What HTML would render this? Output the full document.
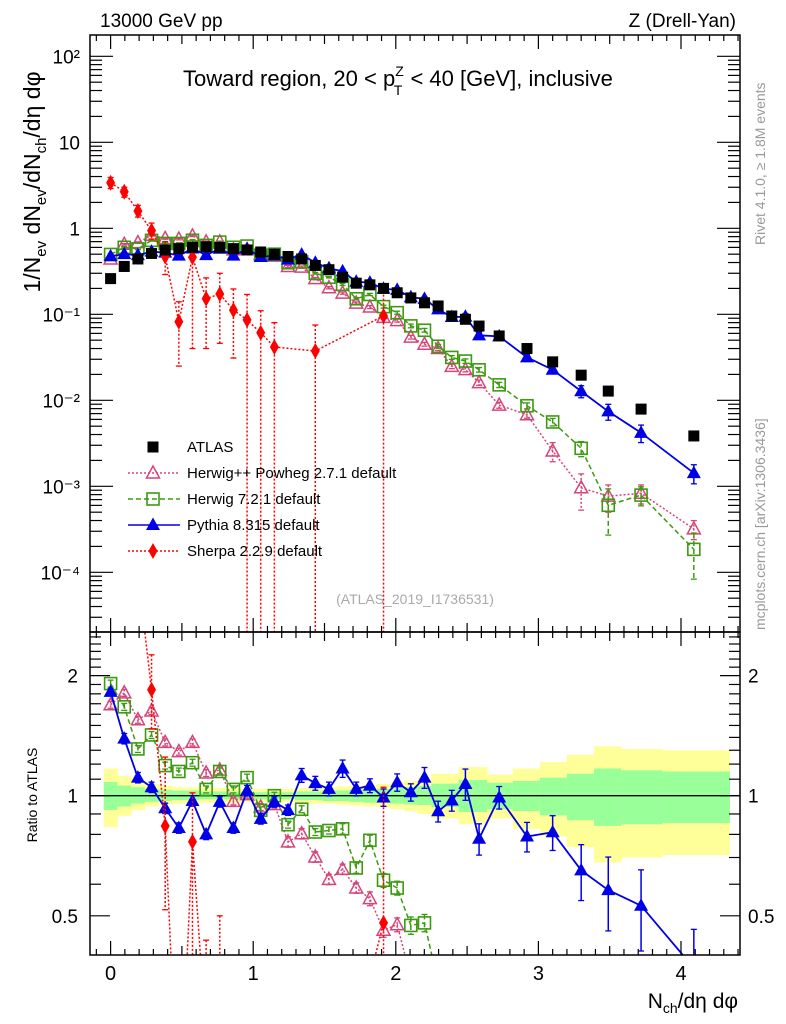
<!DOCTYPE html>
<html><head><meta charset="utf-8"><style>
html,body{margin:0;padding:0;background:#fff;overflow:hidden;}
svg{display:block;font-family:"Liberation Sans",sans-serif;overflow:hidden;}
</style></head><body>
<svg id="chart" width="786" height="1024" viewBox="0 0 786 1024">
<defs>
<clipPath id="cm"><rect x="90" y="35" width="650" height="597"/></clipPath>
<clipPath id="cr"><rect x="90" y="632" width="650" height="323"/></clipPath>
</defs>
<g id="bands" clip-path="url(#cr)"></g>
<g id="mainSeries" clip-path="url(#cm)"></g>
<g id="ratioSeries" clip-path="url(#cr)"></g>
<g id="axes"></g>
<rect x="90" y="35" width="650" height="597" fill="none" stroke="#000" stroke-width="1.5"/>
<rect x="90" y="632" width="650" height="323" fill="none" stroke="#000" stroke-width="1.5"/>
<text x="100" y="27" font-size="19">13000 GeV pp</text>
<text x="736" y="27" font-size="19" text-anchor="end">Z (Drell-Yan)</text>
<text x="183" y="86" font-size="22">Toward region, 20 &lt; p<tspan font-size="14" dy="-10">Z</tspan><tspan font-size="14" dy="19" dx="-10">T</tspan><tspan dy="-9" dx="2"> &lt; 40 [GeV], inclusive</tspan></text>
<text transform="translate(40,182) rotate(-90)" font-size="23" text-anchor="middle">1/N<tspan font-size="15" dy="6">ev</tspan><tspan dy="-6"> dN</tspan><tspan font-size="15" dy="6">ev</tspan><tspan dy="-6">/dN</tspan><tspan font-size="15" dy="6">ch</tspan><tspan dy="-6">/dη dφ</tspan></text>
<text transform="translate(37,795) rotate(-90)" font-size="14" text-anchor="middle">Ratio to ATLAS</text>
<text x="738" y="1008" font-size="21" text-anchor="end">N<tspan font-size="14" dy="5">ch</tspan><tspan dy="-5">/dη dφ</tspan></text>
<text transform="translate(765,245) rotate(-90)" font-size="14" fill="#999">Rivet 4.1.0, ≥ 1.8M events</text>
<text transform="translate(765,630) rotate(-90)" font-size="14" fill="#999">mcplots.cern.ch [arXiv:1306.3436]</text>
<text x="415" y="604" font-size="14" fill="#aaa" text-anchor="middle">(ATLAS_2019_I1736531)</text>
<g id="legend"></g>
</svg>
<script>
// ---- data ----
const xVals=[0,0.0957,0.1914,0.2871,0.3828,0.4785,0.5742,0.6699,0.7656,0.8613,0.957,1.0527,1.1484,1.2441,1.3398,1.4355,1.5312,1.6269,1.7226,1.8183,1.914,2.0097,2.1054,2.2011,2.2968,2.3925,2.4882,2.5839,2.725,2.92,3.10,3.30,3.49,3.72,4.09];
const atlasVals=[0.26,0.36,0.44,0.51,0.56,0.58,0.60,0.61,0.60,0.58,0.56,0.53,0.50,0.47,0.44,0.37,0.33,0.27,0.23,0.22,0.20,0.178,0.155,0.136,0.125,0.0955,0.0875,0.073,0.056,0.040,0.028,0.0196,0.0128,0.0079,0.00385];
const herwigppRatio=[1.69,1.81,1.55,1.63,1.36,1.29,1.36,1.14,1.16,0.968,1.006,0.937,0.95,0.766,0.803,0.702,0.617,0.654,0.587,0.552,0.46,0.475,0.35,0.33,0.32,0.26,0.26,0.22,0.157,0.17,0.092,0.049,0.060,0.105,0.083];
const herwigppErr=[0.02,0.02,0.02,0.02,0.02,0.02,0.02,0.02,0.02,0.02,0.02,0.02,0.02,0.03,0.03,0.03,0.03,0.03,0.03,0.04,0.04,0.04,0.05,0.05,0.05,0.06,0.06,0.07,0.08,0.09,0.25,0.45,0.35,0.25,0.25];
const herwig7Ratio=[1.91,1.67,1.31,1.42,1.19,1.15,1.21,1.037,1.15,1.037,1.11,0.919,1.0,0.846,0.925,0.811,0.818,0.826,0.659,0.773,0.614,0.587,0.473,0.48,0.34,0.33,0.327,0.31,0.27,0.216,0.20,0.141,0.047,0.10,0.048];
const herwig7Err=[0.02,0.02,0.02,0.02,0.02,0.02,0.02,0.02,0.02,0.02,0.02,0.02,0.02,0.02,0.02,0.02,0.02,0.03,0.03,0.03,0.04,0.04,0.05,0.05,0.05,0.05,0.06,0.06,0.07,0.08,0.1,0.2,0.55,0.25,0.55];
const pythiaRatio=[1.82,1.39,1.11,1.05,0.93,0.83,0.97,0.80,0.965,0.83,1.03,0.875,0.965,0.92,1.125,1.075,1.04,1.17,1.04,1.06,0.99,1.08,1.02,1.11,0.914,0.973,1.07,0.78,0.99,0.79,0.81,0.65,0.58,0.53,0.37];
const pythiaErr=[0.02,0.03,0.03,0.03,0.03,0.03,0.03,0.03,0.03,0.03,0.03,0.03,0.03,0.03,0.04,0.04,0.04,0.05,0.04,0.04,0.05,0.05,0.05,0.06,0.06,0.06,0.09,0.09,0.065,0.085,0.10,0.16,0.21,0.23,0.25];
const sherpaVals=[3.39,2.66,1.59,0.94,0.47,0.082,0.46,0.152,0.172,0.112,0.086,0.061,0.0417,null,null,0.0374,null,null,null,null,0.096,null,null,null,null,null,null,null,null,null,null,null,null,null,null];
const sherpaHi=[3.9,3.0,1.85,1.15,0.70,0.14,0.61,0.265,0.30,0.197,0.17,0.11,0.08,null,null,0.075,null,null,null,null,0.21,null,null,null,null,null,null,null,null,null,null,null,null,null,null];
const sherpaLo=[2.9,2.3,1.35,0.75,0.29,0.025,0.04,0.04,0.046,0.031,1e-9,1e-9,1e-9,null,null,1e-9,null,null,null,null,1e-9,null,null,null,null,null,null,null,null,null,null,null,null,null,null];
const bandEdges=[-0.048,0.0479,0.1436,0.2393,0.335,0.4307,0.5264,0.6221,0.7178,0.8135,0.9092,1.0049,1.1006,1.1963,1.292,1.3877,1.4834,1.5791,1.6748,1.7705,1.8662,1.9619,2.0576,2.1533,2.249,2.3447,2.4404,2.5361,2.64,2.82,3.01,3.20,3.39,3.58,3.87,4.34];
const yellowHi=[1.17,1.12,1.09,1.07,1.06,1.05,1.05,1.05,1.045,1.045,1.04,1.04,1.04,1.04,1.045,1.05,1.05,1.055,1.06,1.065,1.07,1.08,1.09,1.11,1.135,1.135,1.18,1.18,1.13,1.17,1.215,1.267,1.33,1.31,1.30];
const yellowLo=[0.835,0.89,0.92,0.94,0.95,0.955,0.955,0.96,0.96,0.96,0.965,0.965,0.965,0.965,0.96,0.955,0.955,0.95,0.945,0.94,0.935,0.925,0.915,0.90,0.876,0.876,0.85,0.85,0.876,0.826,0.79,0.743,0.68,0.70,0.71];
const greenHi=[1.082,1.06,1.05,1.04,1.035,1.03,1.03,1.025,1.025,1.025,1.02,1.02,1.02,1.02,1.025,1.025,1.03,1.03,1.035,1.035,1.04,1.045,1.05,1.057,1.072,1.072,1.095,1.095,1.078,1.089,1.11,1.135,1.17,1.158,1.15];
const greenLo=[0.921,0.94,0.955,0.965,0.97,0.975,0.975,0.98,0.98,0.98,0.98,0.98,0.98,0.98,0.975,0.975,0.97,0.97,0.965,0.96,0.96,0.955,0.95,0.948,0.937,0.937,0.91,0.91,0.926,0.915,0.893,0.868,0.84,0.848,0.854];
const mainYTicks=["10²","10","1","10⁻¹","10⁻²","10⁻³","10⁻⁴"];
const mainYTickVals=[100,10,1,0.1,0.01,0.001,0.0001];
const xTickLabels=["0","1","2","3","4"];
const ratioTickLabels=["2","1","0.5"];
const ratioTickVals=[2,1,0.5];
const legendLabels=["ATLAS","Herwig++ Powheg 2.7.1 default","Herwig 7.2.1 default","Pythia 8.315 default","Sherpa 2.2.9 default"];

// ---- axes ----
const X0=110.6, XS=142.6;
function xpx(v){return X0+XS*v;}
function ypx(v){return Math.max(-300,Math.min(1300,228.3-86*Math.log10(v)));}
function rpx(r){return Math.max(-300,Math.min(1500,795.7-399*Math.log10(r)));}
const NS='http://www.w3.org/2000/svg';
function mk(parent,tag,attrs){const e=document.createElementNS(NS,tag);for(const k in attrs)e.setAttribute(k,attrs[k]);parent.appendChild(e);return e;}
const axes=document.getElementById('axes');
const mainG=document.getElementById('mainSeries');
const ratioG=document.getElementById('ratioSeries');
const bandsG=document.getElementById('bands');

for(let d=-5;d<=2;d++){
  for(let m=1;m<=9;m++){
    const v=m*Math.pow(10,d); const y=ypx(v);
    if(y<35||y>632) continue;
    const len=m===1?23:12;
    const t1=mk(axes,'line',{x1:90,x2:90+len,y1:y,y2:y,stroke:'#000','stroke-width':1.2});
    
    
    const t2=mk(axes,'line',{x1:740,x2:740-len,y1:y,y2:y,stroke:'#000','stroke-width':1.2});
    
    
  }
}
mainYTicks.forEach((lab,i)=>{
  const t=mk(axes,'text',{x:80,y:ypx(mainYTickVals[i])+7,'font-size':19,'text-anchor':'end'});
  t.textContent=lab;
  
  
});
for(let k=-1;k<=44;k++){
  const v=k/10; const x=xpx(v);
  if(x<91||x>739) continue;
  const len=(k%10===0)?14:((k%5===0)?9:6);
  [[35,1],[632,-1],[632,1],[955,-1]].forEach(([y0,s])=>{
    const t=mk(axes,'line',{x1:x,x2:x,y1:y0,y2:y0+s*len,stroke:'#000','stroke-width':1.2});
    
    
  });
}
xTickLabels.forEach((lab,i)=>{
  const t=mk(axes,'text',{x:xpx(i),y:980,'font-size':20,'text-anchor':'middle'});
  t.textContent=lab;
  
  
});
for(let r=0.4;r<=2.56;r+=0.1){
  const rr=Math.round(r*10)/10; const y=rpx(rr);
  if(y<633||y>954) continue;
  const maj=(rr===0.5||rr===1||rr===2);
  const len=maj?20:11;
  const a=mk(axes,'line',{x1:90,x2:90+len,y1:y,y2:y,stroke:'#000','stroke-width':1.2});
  
  
  const b=mk(axes,'line',{x1:740,x2:740-len,y1:y,y2:y,stroke:'#000','stroke-width':1.2});
  
  
}
ratioTickLabels.forEach((lab,i)=>{
  const y=rpx(ratioTickVals[i])+7;
  const a=mk(axes,'text',{x:78,y:y,'font-size':19,'text-anchor':'end'});
  a.textContent=lab;
  
  
  const b=mk(axes,'text',{x:748,y:y,'font-size':19});
  b.textContent=lab;
  
  
});

for(let i=0;i<yellowHi.length;i++){
  const x1=xpx(bandEdges[i]), x2=Math.min(740,xpx(bandEdges[i+1]));
  const y=mk(bandsG,'rect',{x:x1,y:rpx(yellowHi[i]),width:x2-x1+0.5,height:rpx(yellowLo[i])-rpx(yellowHi[i]),fill:'#ffff99'});
  
  
  const g=mk(bandsG,'rect',{x:x1,y:rpx(greenHi[i]),width:x2-x1+0.5,height:rpx(greenLo[i])-rpx(greenHi[i]),fill:'#99ff99'});
  
  
}
const one=mk(bandsG,'line',{x1:90,x2:740,y1:rpx(1),y2:rpx(1),stroke:'#000','stroke-width':1.3});



function marker(g,type,x,y,color){
  let e;
  if(type==='sq') e=mk(g,'rect',{x:x-5.5,y:y-5.5,width:11,height:11,fill:'#000'});
  else if(type==='osq') e=mk(g,'rect',{x:x-6,y:y-6,width:12,height:12,fill:'none',stroke:color,'stroke-width':1.6});
  else if(type==='otri') e=mk(g,'polygon',{points:`${x},${y-7} ${x-6.5},${y+5} ${x+6.5},${y+5}`,fill:'none',stroke:color,'stroke-width':1.5});
  else if(type==='tri') e=mk(g,'polygon',{points:`${x},${y-7.5} ${x-7},${y+5} ${x+7},${y+5}`,fill:color});
  else e=mk(g,'polygon',{points:`${x},${y-8} ${x-4.5},${y} ${x},${y+8} ${x+4.5},${y}`,fill:color});
  return e;
}
function drawSeries(name,vals,his,los,color,dash,type,g,yf,width){
  let pts=[];
  vals.forEach((v,i)=>{if(v!==null&&v>0) pts.push([xpx(xVals[i]),yf(v)]);});
  const pl=mk(g,'polyline',{points:pts.map(p=>p.join(',')).join(' '),fill:'none',stroke:color,'stroke-width':width,'stroke-dasharray':dash});
  
  
  vals.forEach((v,i)=>{
    if(v===null) return;
    const x=xpx(xVals[i]);
    const yh=yf(his[i]), yl=yf(los[i]);
    const eb=mk(g,'line',{x1:x,x2:x,y1:yh,y2:yl,stroke:color,'stroke-width':1.5,'stroke-dasharray':dash});
    
    
    const c1=mk(g,'line',{x1:x-3,x2:x+3,y1:yh,y2:yh,stroke:color,'stroke-width':1.3});
    
    
    const c2=mk(g,'line',{x1:x-3,x2:x+3,y1:yl,y2:yl,stroke:color,'stroke-width':1.3});
    
    
    const m=marker(g,type,x,yf(v),color);
    
    
  });
}
const models=[
  ['herwigpp',herwigppRatio,herwigppErr,'#d6457a','2,2','otri',1.5],
  ['herwig7',herwig7Ratio,herwig7Err,'#3c9a10','5,3','osq',1.5],
  ['pythia',pythiaRatio,pythiaErr,'#0000e6','','tri',1.8]
];
models.forEach(([n,rat,err,col,dash,type,w])=>{
  const abs=rat.map((r,i)=>r*atlasVals[i]);
  const hi=abs.map((v,i)=>v*(1+err[i])), lo=abs.map((v,i)=>v*Math.max(0.01,1-err[i]));
  drawSeries(n,abs,hi,lo,col,dash,type,mainG,ypx,w);
  const rhi=rat.map((r,i)=>r*(1+err[i])), rlo=rat.map((r,i)=>r*Math.max(0.01,1-err[i]));
  drawSeries(n+'-ratio',rat,rhi,rlo,col,dash,type,ratioG,rpx,w);
});
drawSeries('sherpa',sherpaVals,sherpaHi,sherpaLo,'#ff0000','2,2','dia',mainG,ypx,1.5);
const sr=sherpaVals.map((v,i)=>v===null?null:v/atlasVals[i]);
const srh=sherpaHi.map((v,i)=>v===null?null:v/atlasVals[i]);
const srl=sherpaLo.map((v,i)=>v===null?null:v/atlasVals[i]);
drawSeries('sherpa-ratio',sr,srh,srl,'#ff0000','2,2','dia',ratioG,rpx,1.5);
atlasVals.forEach((v,i)=>{
  const m=marker(mainG,'sq',xpx(xVals[i]),ypx(v),'#000');
  
  
});

const leg=document.getElementById('legend');
const legStyles=[['#000','','sq'],['#d6457a','2,2','otri'],['#3c9a10','5,3','osq'],['#0000e6','','tri'],['#ff0000','2,2','dia']];
legendLabels.forEach((lab,i)=>{
  const y=447+i*26;
  const [col,dash,type]=legStyles[i];
  if(i>0){
    const l=mk(leg,'line',{x1:128,x2:180,y1:y,y2:y,stroke:col,'stroke-width':1.5,'stroke-dasharray':dash});
    
    
  }
  const m=marker(leg,type,153,y,col);
  
  
  const t=mk(leg,'text',{x:187,y:y+5,'font-size':15});
  t.textContent=lab;
  
  
});
</script>
</body></html>
